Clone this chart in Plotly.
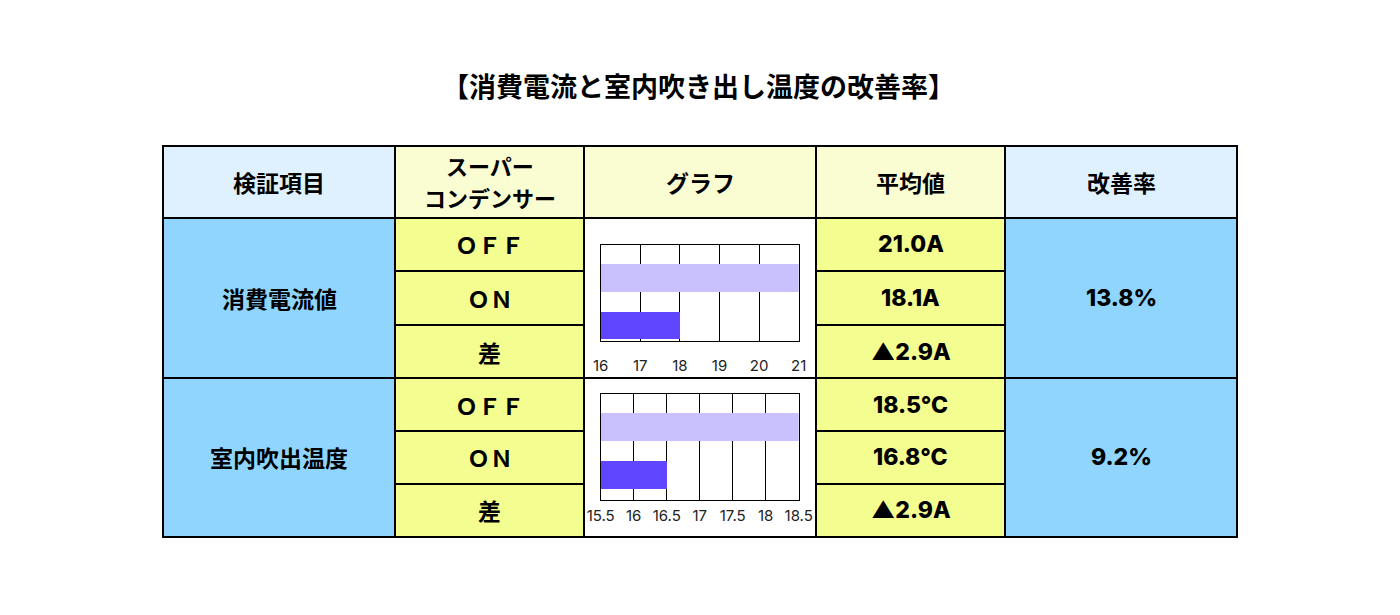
import plotly.graph_objects as go

# ---------------- data ----------------
title_text = "【消費電流と室内吹き出し温度の改善率】"
header_labels = ["検証項目", ["スーパー", "コンデンサー"], "グラフ", "平均値", "改善率"]
group_labels = ["消費電流値", "室内吹出温度"]
state_labels = ["ＯＦＦ", "ＯＮ", "差"]
avg_current = ["21.0A", "18.1A", "▲2.9A"]
avg_temp = ["18.5°C", "16.8°C", "▲2.9A"]
improve_rates = ["13.8%", "9.2%"]

bar_categories = ["ON", "OFF"]
current_bars = [18.0, 21.0]
temp_bars = [16.5, 18.5]
current_ticks = [16, 17, 18, 19, 20, 21]
temp_ticks = [15.5, 16, 16.5, 17, 17.5, 18, 18.5]

# ---------------- style ----------------
W, H = 1400, 615
OFF = 8  # page body offset
FONT_JP = "Noto Sans CJK JP, Noto Sans, sans-serif"
FONT_NUM = "Inter, Noto Sans CJK JP, sans-serif"
C_HEAD_BLUE = "#dff1fe"
C_HEAD_YEL = "#fafdd2"
C_BLUE = "#8fd5fe"
C_YEL = "#f4fd8f"
C_LAV = "#c8c1fd"
C_PUR = "#6046fe"

def px(x):
    return (x - OFF) / W

def py(y):
    return 1 - (y - OFF) / H

cols = [163, 395, 584, 816, 1005, 1237]
head_top, head_bot = 146, 218
rows = [218, 271, 325, 378, 431, 484, 537]

shapes = []
annotations = []

def rect(x0, y0, x1, y1, fill):
    shapes.append(dict(type="rect", xref="paper", yref="paper",
                       x0=px(x0), x1=px(x1), y0=py(y1), y1=py(y0),
                       fillcolor=fill, line=dict(color="black", width=2),
                       layer="below"))

def text(x, y, t, size=24, family=FONT_JP, weight=700):
    annotations.append(dict(xref="paper", yref="paper", x=px(x), y=py(y),
                            text=t, showarrow=False,
                            xanchor="center", yanchor="middle",
                            font=dict(family=family, size=size, color="black",
                                      weight=weight)))

# header
head_fills = [C_HEAD_BLUE, C_HEAD_YEL, C_HEAD_YEL, C_HEAD_YEL, C_HEAD_BLUE]
for i in range(5):
    rect(cols[i], head_top, cols[i + 1], head_bot, head_fills[i])
    cx = (cols[i] + cols[i + 1]) / 2
    lab = header_labels[i]
    if isinstance(lab, list):
        text(cx, 165, lab[0], 22)
        text(cx, 197, lab[1], 22)
    else:
        text(cx, (head_top + head_bot) / 2, lab, 23)

# body
for g in range(2):
    top = rows[g * 3]
    bot = rows[g * 3 + 3]
    mid = (top + bot) / 2
    rect(cols[0], top, cols[1], bot, C_BLUE)
    text((cols[0] + cols[1]) / 2, mid, group_labels[g], 23)
    rect(cols[2], top, cols[3], bot, "white")
    rect(cols[4], top, cols[5], bot, C_BLUE)
    text((cols[4] + cols[5]) / 2, mid, improve_rates[g], 23, FONT_NUM, 800)
    avgs = avg_current if g == 0 else avg_temp
    for r in range(3):
        t0 = rows[g * 3 + r]
        t1 = rows[g * 3 + r + 1]
        rect(cols[1], t0, cols[2], t1, C_YEL)
        text((cols[1] + cols[2]) / 2, (t0 + t1) / 2, state_labels[r], 23)
        rect(cols[3], t0, cols[4], t1, C_YEL)
        text((cols[3] + cols[4]) / 2, (t0 + t1) / 2, avgs[r], 23, FONT_NUM, 800)

# title
annotations.append(dict(xref="paper", yref="paper", x=px(698.5), y=py(85),
                        text=title_text, showarrow=False,
                        xanchor="center", yanchor="middle",
                        font=dict(family=FONT_JP, size=27, color="black", weight=700)))

fig = go.Figure()

fig.add_trace(go.Bar(y=[0, 1], x=current_bars, orientation="h",
                     marker=dict(color=[C_PUR, C_LAV], line=dict(width=0)),
                     width=0.575, xaxis="x", yaxis="y", hoverinfo="skip",
                     customdata=bar_categories))
fig.add_trace(go.Bar(y=[0, 1], x=temp_bars, orientation="h",
                     marker=dict(color=[C_PUR, C_LAV], line=dict(width=0)),
                     width=0.575, xaxis="x2", yaxis="y2", hoverinfo="skip",
                     customdata=bar_categories))

xd = [px(600.7), px(798.7)]
common_x = dict(showgrid=True, gridcolor="black", gridwidth=1,
                showline=True, mirror=True, linecolor="black", linewidth=1,
                zeroline=False, ticks="", automargin=False,
                tickfont=dict(family=FONT_NUM, size=15, color="#222"))
common_y = dict(showgrid=False, showticklabels=False, zeroline=False,
                showline=True, mirror=True, linecolor="black", linewidth=1,
                ticks="", automargin=False)

fig.update_layout(
    width=W, height=H,
    margin=dict(l=0, r=0, t=0, b=0),
    paper_bgcolor="white", plot_bgcolor="white",
    showlegend=False,
    xaxis=dict(domain=xd, range=[current_ticks[0], current_ticks[-1]],
               tickvals=current_ticks, ticktext=[str(v) for v in current_ticks],
               anchor="y", ticklabelstandoff=11, **common_x),
    yaxis=dict(domain=[py(341), py(245)], range=[-0.32, 1.686], anchor="x", **common_y),
    xaxis2=dict(domain=xd, range=[temp_ticks[0], temp_ticks[-1]],
                tickvals=temp_ticks, ticktext=[f"{v:g}" for v in temp_ticks],
                anchor="y2", ticklabelstandoff=2, **common_x),
    yaxis2=dict(domain=[py(500), py(393.7)], range=[-0.525, 1.69], anchor="x2", **common_y),
    shapes=shapes,
    annotations=annotations,
    bargap=0,
)

fig.write_html("out.html")
